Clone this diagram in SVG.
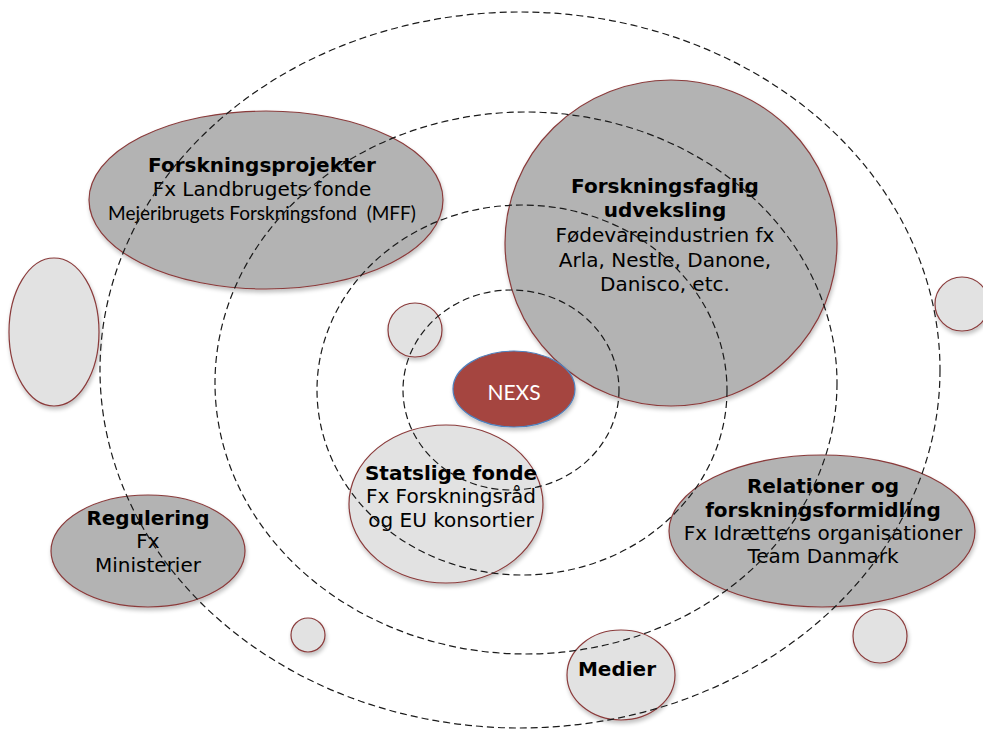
<svg xmlns="http://www.w3.org/2000/svg" width="983" height="729" viewBox="0 0 983 729">
<defs>
<filter id="sh" x="-10%" y="-10%" width="130%" height="130%">
<feGaussianBlur in="SourceAlpha" stdDeviation="2"/>
<feOffset dx="1" dy="3"/>
<feComponentTransfer><feFuncA type="linear" slope="0.25"/></feComponentTransfer>
<feMerge><feMergeNode/><feMergeNode in="SourceGraphic"/></feMerge>
</filter>
</defs>
<style>
.dark{fill:#b3b3b3;stroke:#8a3b3b;stroke-width:1.2;filter:url(#sh)}
.light{fill:#e2e2e2;stroke:#8a3b3b;stroke-width:1.2;filter:url(#sh)}
.nexs{fill:#a5453f;stroke:#4f81bd;stroke-width:1.2;filter:url(#sh)}
.ring{fill:none;stroke:#1a1a1a;stroke-width:1.2;stroke-dasharray:7 4}
text{font-family:"DejaVu Sans",Verdana,sans-serif;font-size:20px;fill:#000;text-anchor:middle}
.b{font-weight:bold}
.c{font-family:Lato,"Open Sans",sans-serif}
</style>
<rect width="983" height="729" fill="#fff"/>
<g id="forskningsprojekter">
<ellipse class="dark" cx="266" cy="200" rx="177" ry="89"/>
<text class="b" x="262" y="172">Forskningsprojekter</text>
<text x="262" y="196">Fx Landbrugets fonde</text>
<text class="c" x="262" y="220" style="font-size:19px">Mejeribrugets Forskningsfond &#160;(MFF)</text>
</g>
<g id="forskningsfaglig">
<ellipse class="dark" cx="671" cy="243" rx="166" ry="163"/>
<text class="b" x="665" y="193">Forskningsfaglig</text>
<text class="b" x="665" y="217">udveksling</text>
<text x="665" y="242">Fødevareindustrien fx</text>
<text x="665" y="267">Arla, Nestle, Danone,</text>
<text x="665" y="291">Danisco, etc.</text>
</g>
<g id="small-left-tall">
<ellipse class="light" cx="54" cy="332" rx="45" ry="74"/>
</g>
<g id="small-near-nexs">
<circle class="light" cx="415" cy="330" r="27"/>
</g>
<g id="small-right">
<circle class="light" cx="962" cy="304" r="27"/>
</g>
<g id="nexs">
<ellipse class="nexs" cx="514" cy="389" rx="61" ry="38"/>
<text class="c" x="514" y="400" style="font-size:21px;fill:#fff">NEXS</text>
</g>
<g id="statslige">
<ellipse class="light" cx="446" cy="504" rx="97" ry="79"/>
<text class="b" x="451" y="480">Statslige fonde</text>
<text x="451" y="503">Fx Forskningsråd</text>
<text x="451" y="527">og EU konsortier</text>
</g>
<g id="relationer">
<ellipse class="dark" cx="822" cy="531" rx="153" ry="76"/>
<text class="b" x="823" y="493">Relationer og</text>
<text class="b" x="823" y="517">forskningsformidling</text>
<text x="823" y="540">Fx Idrættens organisationer</text>
<text x="823" y="563">Team Danmark</text>
</g>
<g id="regulering">
<ellipse class="dark" cx="148" cy="551" rx="97" ry="56"/>
<text class="b" x="148" y="525">Regulering</text>
<text x="148" y="548">Fx</text>
<text x="148" y="572">Ministerier</text>
</g>
<g id="small-bottom-left">
<circle class="light" cx="308" cy="635" r="17"/>
</g>
<g id="small-bottom-right">
<circle class="light" cx="880" cy="636" r="27"/>
</g>
<g id="medier">
<ellipse class="light" cx="621" cy="675" rx="54" ry="45"/>
<text class="b" x="617" y="676">Medier</text>
</g>
<g id="connectors">
<ellipse class="ring" cx="520" cy="370" rx="420" ry="358"/>
<ellipse class="ring" cx="526" cy="383" rx="311" ry="271"/>
<ellipse class="ring" cx="522" cy="390" rx="205" ry="185"/>
<ellipse class="ring" cx="511" cy="390" rx="108" ry="100"/>
</g>
</svg>
